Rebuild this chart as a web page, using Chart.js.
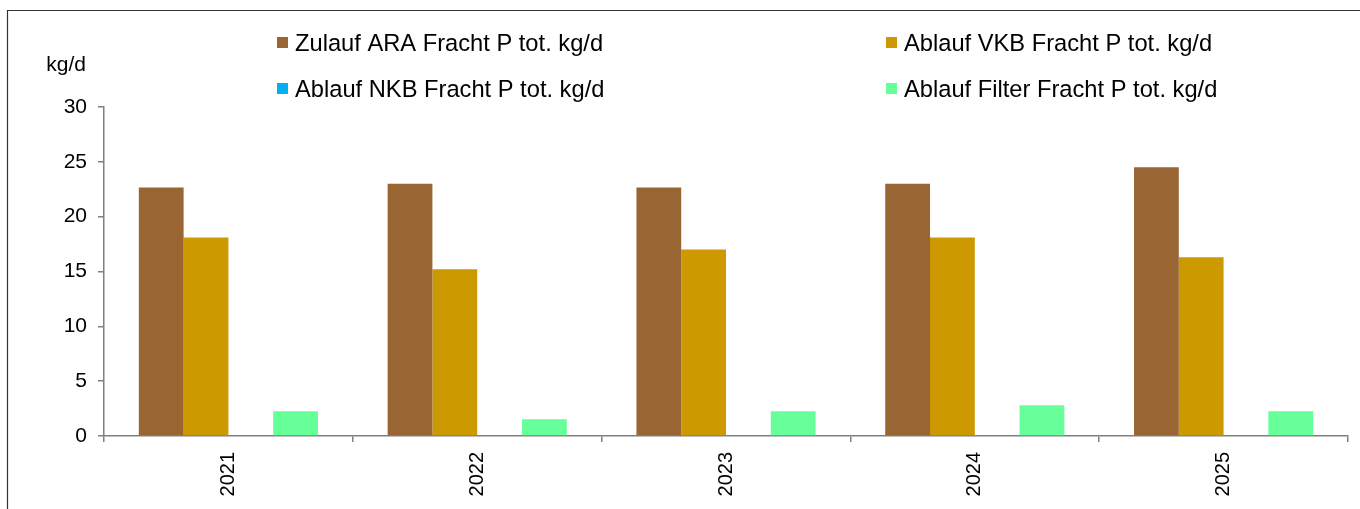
<!DOCTYPE html>
<html>
<head>
<meta charset="utf-8">
<script src="https://cdn.jsdelivr.net/npm/chart.js@4"></script>
<style>
  html, body { margin: 0; padding: 0; background: #fff; }
  canvas { display: block; }
</style>
</head>
<body>
<canvas id="chart" width="1360" height="509"></canvas>
<script>
// ===== Data =====
const years = ["2021", "2022", "2023", "2024", "2025"];
const zulaufARA = [22.65, 23.0, 22.65, 23.0, 24.5];
const ablaufVKB = [18.1, 15.2, 17.0, 18.1, 16.3];
const ablaufNKB = [0, 0, 0, 0, 0];
const ablaufFilter = [2.25, 1.52, 2.25, 2.8, 2.25];
const seriesNames = [
  "Zulauf ARA Fracht P tot. kg/d",
  "Ablauf VKB Fracht P tot. kg/d",
  "Ablauf NKB Fracht P tot. kg/d",
  "Ablauf Filter Fracht P tot. kg/d"
];
const yTicks = [0, 5, 10, 15, 20, 25, 30];
const unit = "kg/d";

const FONT = "'Liberation Sans', Arial, sans-serif";
const AXIS = "#808080";

// frame, unit label and a fixed 2x2 legend, drawn straight on the canvas
const decor = {
  id: "decor",
  beforeDraw(c) {
    const g = c.ctx;
    g.save();
    g.fillStyle = "#fff";
    g.fillRect(0, 0, c.width, c.height);
    g.strokeStyle = "#333";
    g.lineWidth = 1.2;
    g.beginPath();
    g.moveTo(7.5, c.height);
    g.lineTo(7.5, 10.5);
    g.lineTo(c.width, 10.5);
    g.stroke();
    g.restore();
  },
  afterDraw(c) {
    const g = c.ctx;
    g.save();
    g.fillStyle = "#000";
    g.font = "21px " + FONT;
    g.textAlign = "right";
    g.textBaseline = "alphabetic";
    g.fillText(unit, 86, 71);

    const cols = [277, 886], rows = [51, 97];
    g.font = "23.7px " + FONT;
    g.textAlign = "left";
    c.data.datasets.forEach((ds, i) => {
      const bx = cols[i % 2], by = rows[Math.floor(i / 2)];
      g.fillStyle = ds.backgroundColor;
      g.fillRect(bx, by - 14, 11, 11);
      g.fillStyle = "#000";
      g.fillText(ds.label, bx + 18, by);
    });
    g.restore();
  }
};

const colors = ["#996633", "#CC9900", "#00B0F0", "#66FF99"];
const values = [zulaufARA, ablaufVKB, ablaufNKB, ablaufFilter];

new Chart(document.getElementById("chart"), {
  type: "bar",
  data: {
    labels: years,
    datasets: values.map((v, i) => ({
      label: seriesNames[i],
      data: v,
      backgroundColor: colors[i],
      borderWidth: 0,
      categoryPercentage: 0.72,
      barPercentage: 1.0
    }))
  },
  options: {
    responsive: false,
    animation: false,
    layout: { padding: { left: 0, top: 107, right: 12, bottom: 0 } },
    plugins: { legend: { display: false }, tooltip: { enabled: false } },
    scales: {
      x: {
        offset: true,
        grid: { display: true, offset: true, drawOnChartArea: false, drawTicks: true, tickLength: 6, color: AXIS, lineWidth: 1.5 },
        border: { display: true, color: AXIS, width: 1.5 },
        ticks: { color: "#000", font: { family: FONT, size: 20 }, minRotation: 90, maxRotation: 90, padding: 10 },
        afterFit(s) { s.height = 73; }
      },
      y: {
        min: 0, max: 30,
        afterBuildTicks(s) { s.ticks = yTicks.map(v => ({ value: v })); },
        grid: { display: true, drawOnChartArea: false, drawTicks: true, tickLength: 6, color: AXIS, lineWidth: 1.5 },
        border: { display: true, color: AXIS, width: 1.5 },
        ticks: { color: "#000", font: { family: FONT, size: 21 }, padding: 11 },
        afterFit(s) { s.width = 104; }
      }
    }
  },
  plugins: [decor]
});
</script>
</body>
</html>
